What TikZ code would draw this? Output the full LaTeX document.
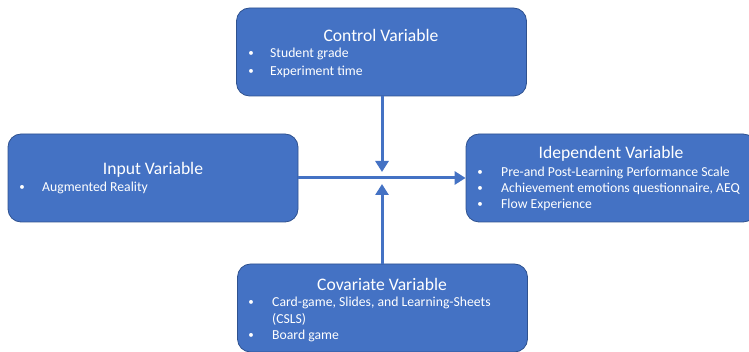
\documentclass[tikz,border=0pt]{standalone}
\usepackage{fontspec}
\setmainfont{Carlito}
\usetikzlibrary{arrows.meta}
\definecolor{boxfill}{HTML}{4472C4}
\definecolor{boxline}{HTML}{2F528F}
\tikzset{
  varbox/.style={draw=boxline, line width=0.8pt, fill=boxfill, rounded corners=13pt, minimum width=290pt, minimum height=88pt, inner sep=0pt},
  boxtitle/.style={text=white, font=\fontsize{17.6}{20}\selectfont, inner sep=0pt},
  bul/.style={text=white, font=\fontsize{13.7}{16}\selectfont, inner sep=0pt, anchor=west},
  bdot/.style={text=white, font=\fontsize{11}{13}\selectfont, inner sep=0pt},
  conn/.style={draw=boxfill, line width=3pt},
  connarrow/.style={conn, -{Triangle[length=11pt,width=13pt]}}
}
\begin{document}
\begin{tikzpicture}[x=1pt,y=-1pt]
\useasboundingbox (0,0) rectangle (749,352);
\clip (0,0) rectangle (749,352);
% boxes
\node[varbox] (ctrl) at (381.5,52) {};
\node[varbox] (inp) at (153,178) {};
\node[varbox] (dep) at (611,178) {};
\node[varbox] (cov) at (382.5,308) {};
% connectors
\coordinate (mtop) at (382,172);
\coordinate (mbot) at (382,184);
\draw[connarrow] (inp.east) -- (dep.west);
\draw[connarrow] (ctrl.south -| mtop) -- (mtop);
\draw[connarrow] (cov.north -| mbot) -- (mbot);
% control
\node[boxtitle] (ctrlt) at (381,35) {Control Variable};
\node[bdot] (c1d) at (251,54) {•};
\node[bul] (c1) at (270,54) {Student grade};
\node[bdot] (c2d) at (251,72) {•};
\node[bul] (c2) at (270,72) {Experiment time};
% input
\node[boxtitle] (inpt) at (153,170) {Input Variable};
\node[bdot] (i1d) at (22,188) {•};
\node[bul] (i1) at (42,188) {Augmented Reality};
% independent
\node[boxtitle] (dept) at (611,154) {Idependent Variable};
\node[bdot] (d1d) at (480,173) {•};
\node[bul] (d1) at (501,173) {Pre-and Post-Learning Performance Scale};
\node[bdot] (d2d) at (480,189) {•};
\node[bul] (d2) at (501,189) {Achievement emotions questionnaire, AEQ};
\node[bdot] (d3d) at (480,205) {•};
\node[bul] (d3) at (501,205) {Flow Experience};
% covariate
\node[boxtitle] (covt) at (382,284) {Covariate Variable};
\node[bdot] (v1d) at (251,303) {•};
\node[bul] (v1) at (272,303) {Card-game, Slides, and Learning-Sheets};
\node[bul] (v2) at (272,319) {(CSLS)};
\node[bdot] (v3d) at (251,336) {•};
\node[bul] (v3) at (272,336) {Board game};
\end{tikzpicture}
\end{document}
